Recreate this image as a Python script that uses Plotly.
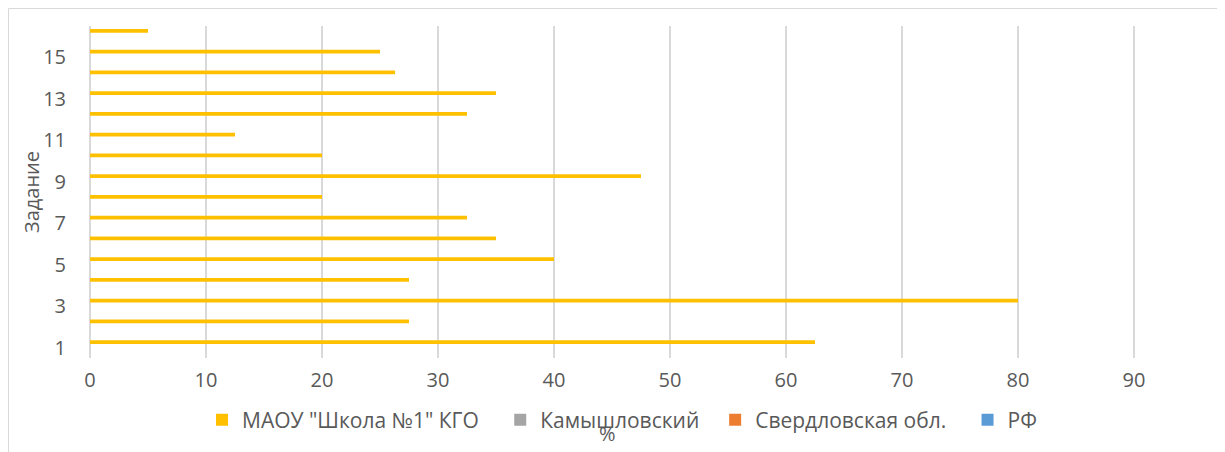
import plotly.graph_objects as go

tasks = list(range(1, 17))
school = [62.5, 27.5, 80, 27.5, 40, 35, 32.5, 20, 47.5, 20, 12.5, 32.5, 35, 26.3, 25, 5]
district = [None] * 16
region = [None] * 16
russia = [None] * 16
series_names = ['МАОУ "Школа №1" КГО', "Камышловский", "Свердловская обл.", "РФ"]
colors = ["#FFC000", "#A5A5A5", "#ED7D31", "#5B9BD5"]
ytick_vals = [1, 3, 5, 7, 9, 11, 13, 15]
xtick_vals = [0, 10, 20, 30, 40, 50, 60, 70, 80, 90]

FONT = "Open Sans"
TXT = "#595959"
OFF = 8  # page body margin
W, H = 1225 - OFF, 452 - OFF
L, R, T, B = 90 - OFF, 0, 26 - OFF, 94
PW, PH = W - L - R, H - T - B


def sx(px):
    return (px - OFF - L) / PW


def sy(py):
    return (H - B - (py - OFF)) / PH


pads = ["\u00a0\u00a0\u00a0", "\u00a0\u00a0", "\u00a0\u00a0\u00a0", ""]

fig = go.Figure()
bw = 0.175
offsets = [0.175, 0.0, -0.175, -0.35]
for name, pad, vals, col, off in zip(series_names, pads, [school, district, region, russia], colors, offsets):
    fig.add_trace(go.Bar(
        y=tasks, x=vals, orientation="h", name=name + pad,
        marker=dict(color=col, line=dict(width=0)),
        width=bw, offset=off,
    ))

fig.update_layout(
    width=W, height=H,
    margin=dict(l=L, r=R, t=T, b=B, autoexpand=False),
    paper_bgcolor="white", plot_bgcolor="white",
    barmode="overlay",
    font=dict(family=FONT, size=20, color=TXT),
    showlegend=True,
    legend=dict(
        orientation="h", x=sx(202), xanchor="left",
        y=sy(420), yanchor="middle",
        font=dict(family=FONT, size=21, color=TXT),
        bgcolor="rgba(0,0,0,0)", traceorder="normal",
    ),
    xaxis=dict(
        range=[0, PW / 11.6], tickvals=xtick_vals,
        showgrid=True, gridcolor="#D9D9D9", gridwidth=1.5,
        zeroline=True, zerolinecolor="#D9D9D9", zerolinewidth=1.5,
        showline=False, ticks="", ticklabelstandoff=8,
        tickfont=dict(family=FONT, size=20, color=TXT),
    ),
    yaxis=dict(
        range=[0.5, 16.5], tickvals=ytick_vals,
        showgrid=False, zeroline=False, showline=False, ticks="",
        ticklabelstandoff=23,
        tickfont=dict(family=FONT, size=20, color=TXT),
    ),
    annotations=[
        dict(text="Задание", textangle=-90, xref="paper", yref="paper",
             x=sx(31), y=sy(192), xanchor="center", yanchor="middle",
             showarrow=False, font=dict(family=FONT, size=20, color=TXT)),
        dict(text="%", xref="paper", yref="paper",
             x=sx(607), y=sy(433), xanchor="center", yanchor="middle",
             showarrow=False, font=dict(family=FONT, size=20, color=TXT)),
    ],
    shapes=[
        dict(type="line", xref="paper", yref="paper",
             x0=sx(8.5), x1=sx(8.5), y0=sy(8.5), y1=sy(460),
             line=dict(color="#D9D9D9", width=1)),
        dict(type="line", xref="paper", yref="paper",
             x0=sx(8.5), x1=sx(1240), y0=sy(8.5), y1=sy(8.5),
             line=dict(color="#D9D9D9", width=1)),
    ],
)

fig.write_html("out.html")
